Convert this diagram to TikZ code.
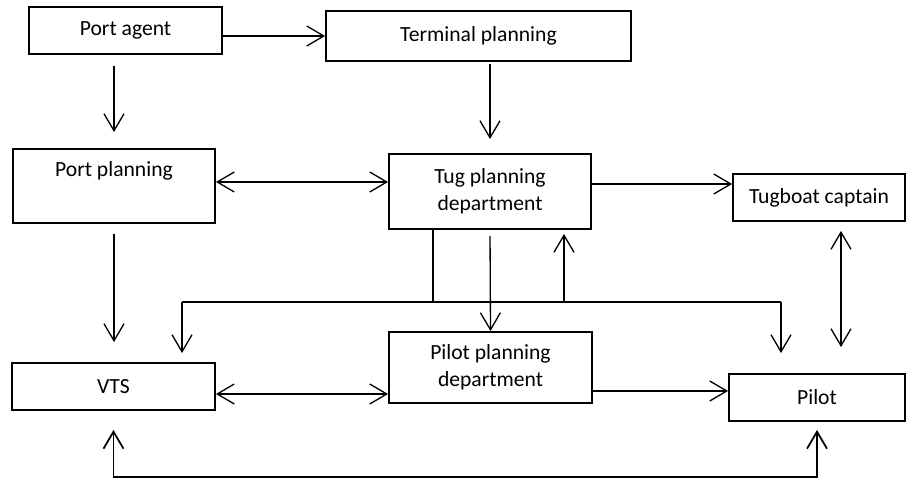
\documentclass[tikz,border=0pt]{standalone}
\usepackage{fontspec}
\setmainfont{Carlito}
\usetikzlibrary{arrows.meta}
\begin{document}
\begin{tikzpicture}[x=0.02cm,y=-0.02cm,line width=0.75pt,>={Straight Barb[length=0.34cm,width=0.4cm]},
    unit/.style={draw,line width=1.1pt,inner sep=0pt,align=center,font=\fontsize{12.3}{15.3}\selectfont}]
    \useasboundingbox (0,0) rectangle (907,479);
    \node[unit,minimum width=3.86cm,minimum height=0.94cm] (pa) at (125.5,30.5) {Port agent};
    \node[unit,minimum width=6.1cm,minimum height=1cm] (tp) at (478.5,36) {Terminal planning};
    \node[unit,minimum width=4.04cm,minimum height=1.48cm] (pp) at (114,186) {Port planning\\\strut};
    \node[unit,minimum width=4.04cm,minimum height=1.5cm] (tug) at (490,191.5) {Tug planning\\department};
    \node[unit,minimum width=3.44cm,minimum height=0.94cm] (tc) at (819,197.5) {Tugboat captain};
    \node[unit,minimum width=4.06cm,minimum height=0.94cm] (vts) at (113.5,386.5) {VTS};
    \node[unit,minimum width=4.06cm,minimum height=1.42cm] (ppd) at (490.5,367.5) {Pilot planning\\department};
    \node[unit,minimum width=3.52cm,minimum height=0.94cm] (pil) at (817,397.5) {Pilot};
    \coordinate (bus) at (433,302);
    \coordinate (busL) at (182,302);
    \coordinate (busR) at (781,302);
    \coordinate (busU) at (564,302);
    \coordinate (bot) at (113,477);
    \draw[->] (pa.east |- tp.west) -- (tp.west);
    \draw[->,shorten <=0.22cm,shorten >=0.32cm] (pa.south -| pp.north) -- (pp.north);
    \draw[->,shorten <=0.04cm,shorten >=0.28cm] (tp.south -| tug.north) -- (tug.north);
    \draw[<->] ([yshift=0.08cm]pp.east) -- ([yshift=0.08cm]pp.east -| tug.west);
    \draw[->] ([yshift=0.15cm]tug.east) -- ([yshift=0.15cm]tug.east -| tc.west);
    \draw[<->,shorten <=0.18cm,shorten >=0.52cm] ([xshift=0.44cm]tc.south) -- ([xshift=0.44cm]tc.south |- pil.north);
    \draw[->,shorten <=0.2cm,shorten >=0.4cm] (pp.south) -- (pp.south |- vts.north);
    \draw (tug.south -| bus) -- (bus);
    \draw (busL) -- (busR);
    \draw[->,shorten >=0.18cm] (busL) -- (busL |- vts.north);
    \draw[->,shorten >=0.4cm] (busR) -- (busR |- pil.north);
    \draw[->,shorten >=0.08cm] (busU) -- (busU |- tug.south);
    \draw[->,shorten <=0.12cm] (tug.south) -- (ppd.north);
    \draw[<->] ([yshift=-0.15cm]vts.east) -- ([yshift=-0.15cm]vts.east -| ppd.west);
    \draw[->] ([yshift=0.13cm]pil.west -| ppd.east) -- ([yshift=0.13cm]pil.west);
    \draw[<->,line width=1pt,shorten <=0.38cm,shorten >=0.16cm] (vts.south) -- (vts.south |- bot) -- (pil.south |- bot) -- (pil.south);
\end{tikzpicture}
\end{document}
